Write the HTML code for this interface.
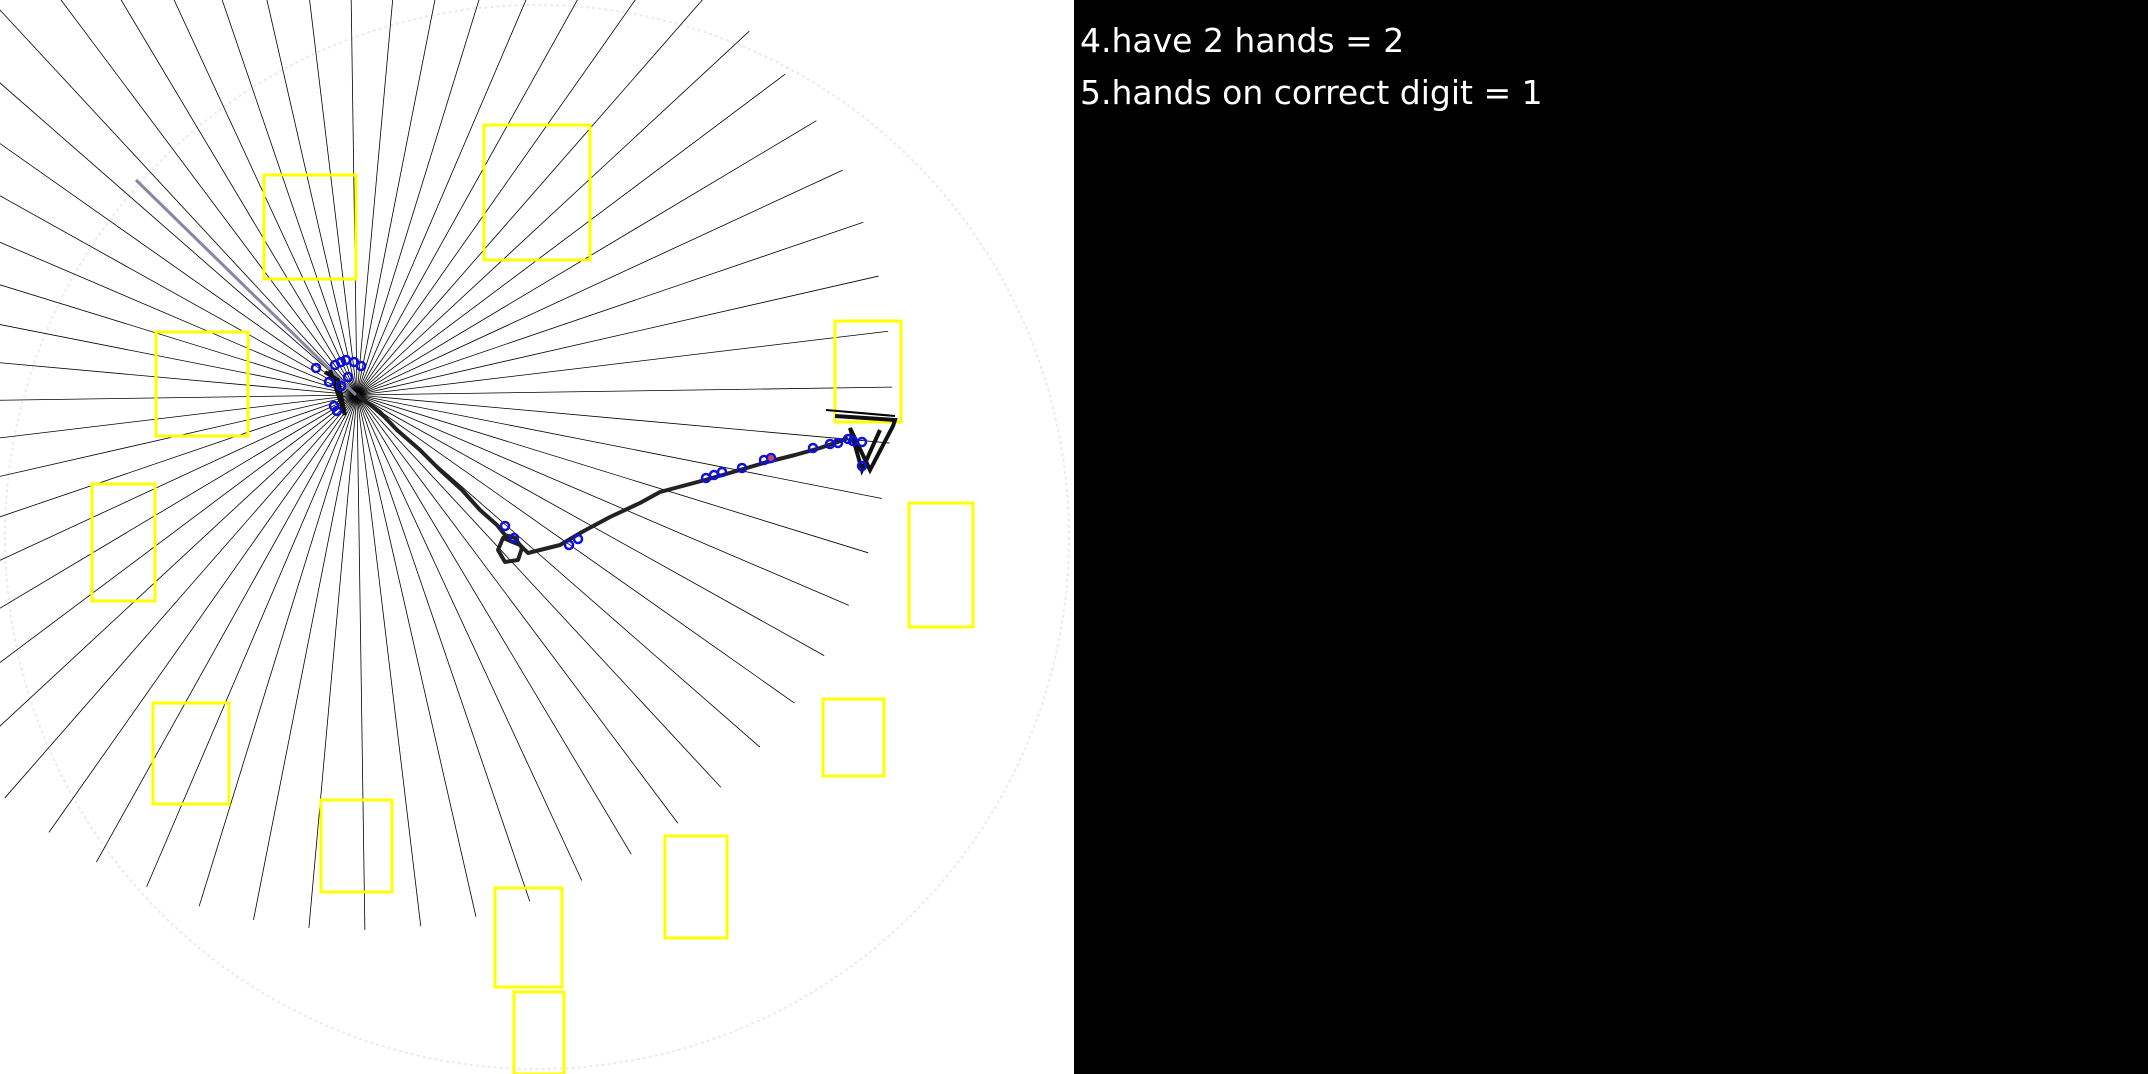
<!DOCTYPE html>
<html><head><meta charset="utf-8"><style>
html,body{margin:0;padding:0;width:2148px;height:1074px;overflow:hidden;background:#000}
#wrap{position:relative;width:2148px;height:1074px}
svg{position:absolute;left:0;top:0}
.t{position:absolute;left:1080px;color:#fff;font-family:"DejaVu Sans","Liberation Sans",sans-serif;font-size:33px;white-space:nowrap}
</style></head><body>
<div id="wrap">
<svg id="s" width="2148" height="1074">
<rect x="0" y="0" width="1074" height="1074" fill="#fff"/>
<rect x="1074" y="0" width="1074" height="1074" fill="#000"/>
<circle cx="537" cy="537" r="532" fill="none" stroke="#ebebef" stroke-width="2" stroke-dasharray="3 3"/>
<g id="rays"></g>
<line x1="136" y1="180" x2="356" y2="395" stroke="#8a86a0" stroke-width="3"/>
<g id="boxes"></g>
<g id="hand"></g>
<g id="dots"></g>
</svg>
<div class="t" style="top:21px">4.have 2 hands = 2</div>
<div class="t" style="top:73px">5.hands on correct digit = 1</div>
</div>
<script>
const rayCount = [60];
const rayLen = [535];
const centerPt = [357, 395];
const boxX1 = [264,484,156,835,92,909,153,823,321,665,495,514];
const boxY1 = [175,125,332,321,484,503,703,699,800,836,888,992];
const boxX2 = [356,590,248,901,155,973,229,884,392,727,562,564];
const boxY2 = [279,260,436,422,601,627,804,776,892,938,987,1074];
const pathX = [357,380,397,420,440,462,480,497,505,515,522,518,505,498,503,520,528,560,582,610,640,660,705,740,767,795,820,835,848];
const pathY = [395,412,430,450,470,490,510,525,535,538,548,560,562,550,538,545,553,545,532,517,503,492,480,470,462,455,448,443,438];
const dotX = [505,514,569,578,706,714,722,742,764,771,813,830,838,848,853,862,862,335,346,341,354,361,348,329,341,316,334,337];
const dotY = [526,538,545,539,478,475,472,468,460,458,448,444,443,439,441,442,466,365,360,362,362,366,377,382,386,368,406,411];
const NS='http://www.w3.org/2000/svg';
function mk(t,a,p){const e=document.createElementNS(NS,t);for(const k in a)e.setAttribute(k,a[k]);p.appendChild(e);return e;}
const rays=document.getElementById('rays');
for(let i=0;i<rayCount[0];i++){const a=i*2*Math.PI/rayCount[0]+0.09;
 const l=mk('line',{x1:centerPt[0],y1:centerPt[1],x2:centerPt[0]+rayLen[0]*Math.cos(a),y2:centerPt[1]+rayLen[0]*Math.sin(a),stroke:'#000','stroke-width':0.8},rays);
 
 }
const boxes=document.getElementById('boxes');
for(let i=0;i<boxX1.length;i++){const r=mk('rect',{x:boxX1[i],y:boxY1[i],width:boxX2[i]-boxX1[i],height:boxY2[i]-boxY1[i],fill:'none',stroke:'#ffff00','stroke-width':3},boxes);
 
 }
const hand=document.getElementById('hand');
let d='M'+pathX.map((x,i)=>x+' '+pathY[i]).join(' L');
const p=mk('path',{d:d,fill:'none',stroke:'#222','stroke-width':4,'stroke-linejoin':'round'},hand);


const c1=mk('path',{d:'M835 416 L895 420 L893 426 L870 470 L850 428 L862 470 L880 430 M330 370 L345 415 L338 380 L325 372',fill:'none',stroke:'#111','stroke-width':4},hand);


const c2=mk('line',{x1:826,y1:410,x2:895,y2:416,stroke:'#000','stroke-width':2},hand);


const dots=document.getElementById('dots');
for(let i=0;i<dotX.length;i++){const c=mk('circle',{cx:dotX[i],cy:dotY[i],r:4,fill:'none',stroke:'#1010dd','stroke-width':2.5},dots);
 
 }
const red=mk('circle',{cx:771,cy:458,r:3,fill:'#d04060'},dots);


</script>
</body></html>
